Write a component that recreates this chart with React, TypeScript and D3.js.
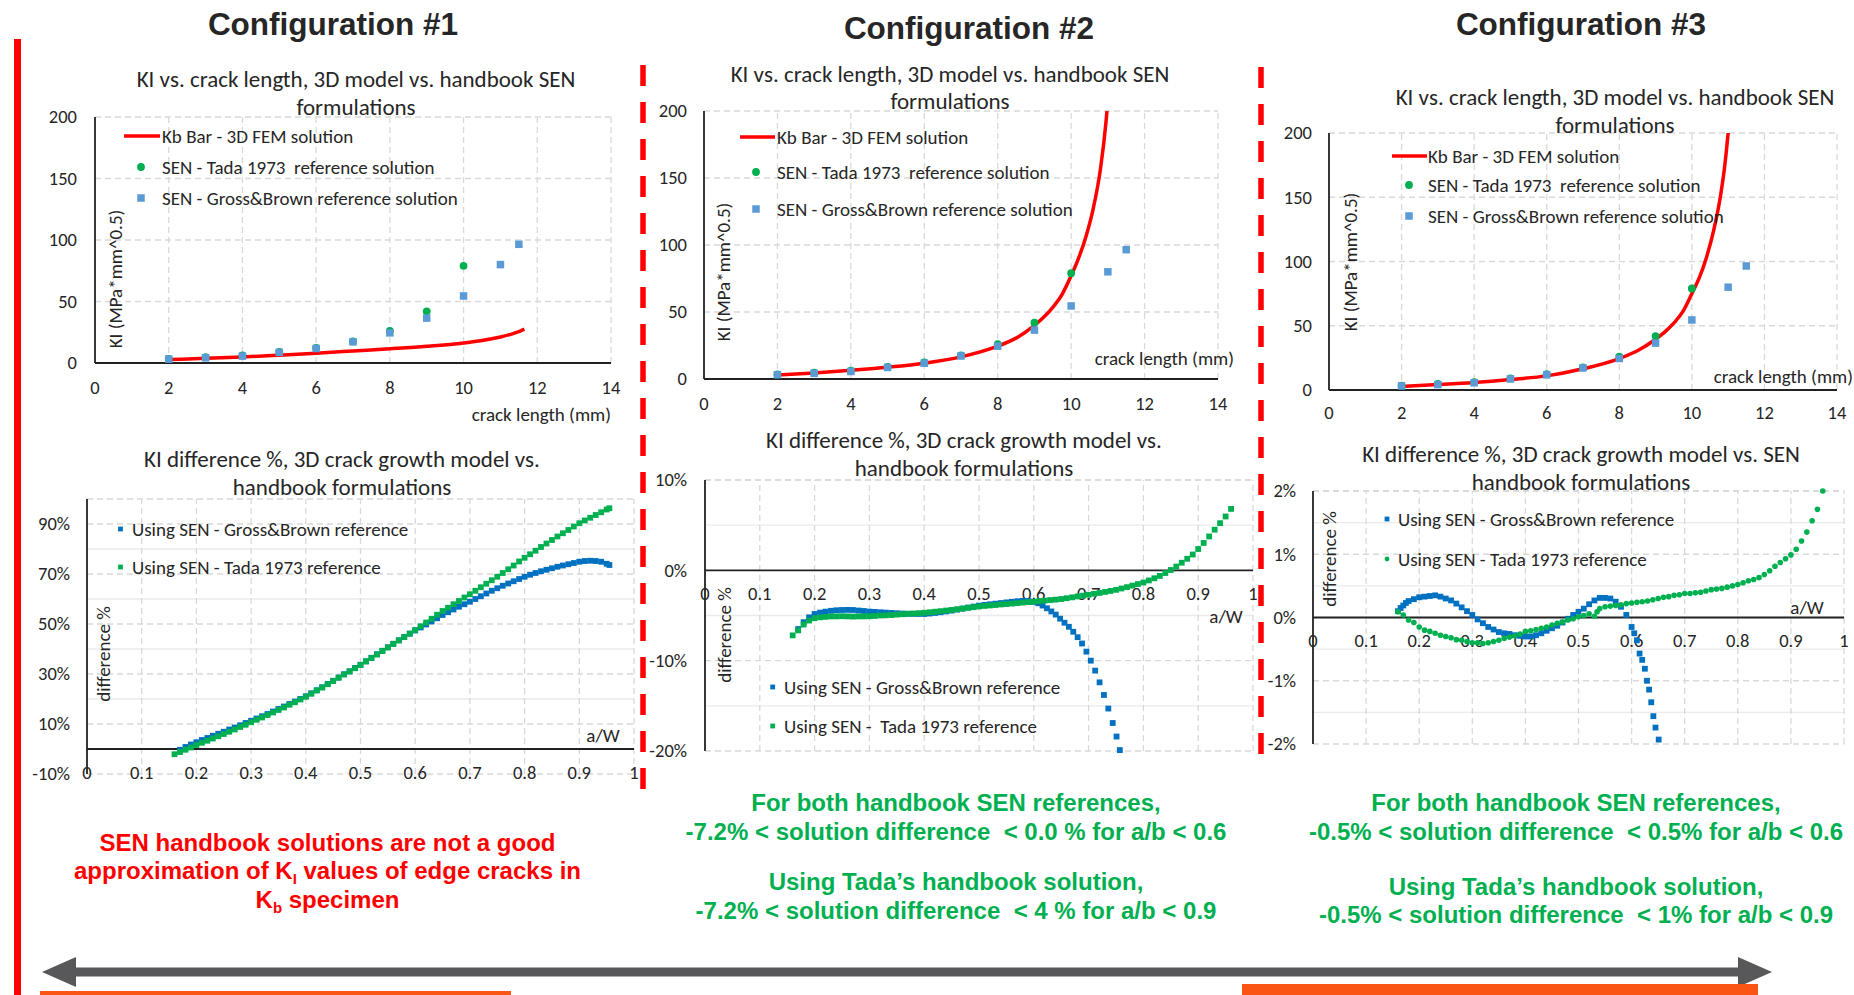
import React from "react";
import * as d3 from "d3";

const CAL = "Carlito, Calibri, Lato, sans-serif";
const ARIAL = "'Liberation Sans', Arial, Helvetica, sans-serif";
const TXT = "#262626";
const GRID = "#D9D9D9";
const RED = "#FF0000";
const GREEN = "#00B050";
const LBLUE = "#5B9BD5";
const DBLUE = "#0070C0";

const F_TITLE = 23;
const F_LEG = 19;
const F_TICK = 18.5;
const F_AXIS = 19;

// ---------------- data: KI vs crack length ----------------
const kiXTicks = [0, 2, 4, 6, 8, 10, 12, 14];
const kiYTicks = [0, 50, 100, 150, 200];

const grossCrack = [2, 3, 4, 5, 6, 7, 8, 9, 10, 11, 11.5];
const grossBrownKI = [3.2, 4.2, 5.6, 8.6, 11.8, 17.2, 24.5, 36.5, 54.5, 80, 96.5];

const tadaCrack = [2, 3, 4, 5, 6, 7, 8, 9, 10];
const tadaKI = [3.4, 4.8, 6.2, 9.0, 12.3, 17.6, 26, 42, 79];

const kb1Crack = [2, 3, 4, 5, 6, 7, 8, 9, 10, 10.5, 11, 11.3, 11.5, 11.65];
const kb1KI = [2.8, 3.8, 4.9, 6.4, 8.0, 9.8, 11.6, 13.6, 16.3, 18.3, 21.2, 23.5, 25.5, 27.5];

const kb2Crack = [2, 3, 4, 5, 6, 7, 8, 8.5, 9, 9.25, 9.5, 9.75, 10, 10.2, 10.4, 10.6, 10.8, 10.95, 11.05];
const kb2KI = [3, 4.5, 6.5, 8.8, 11.8, 16.5, 24.5, 30.5, 40, 46, 53.5, 63, 77, 90, 106, 127, 157, 192, 225];

const kb3Crack = [2, 3, 4, 5, 6, 7, 8, 8.5, 9, 9.25, 9.5, 9.75, 10, 10.2, 10.4, 10.6, 10.8, 10.9, 11.0, 11.08];
const kb3KI = [2.7, 4.2, 5.9, 8.2, 11, 16.5, 24.5, 30.5, 39.5, 45, 52, 61, 75, 87, 103, 124, 153, 173, 200, 225];

// ---------------- data: difference % vs a/W ----------------
const awTicks = [0, 0.1, 0.2, 0.3, 0.4, 0.5, 0.6, 0.7, 0.8, 0.9, 1];

const diff1Major = [-10, 10, 30, 50, 70, 90];
const diff1Minor = [20, 40, 60, 80];
const diff2Major = [-20, -10, 0, 10];
const diff2Minor = [-15, -5, 5];
const diff3Major = [-2, -1, 0, 1, 2];
const diff3Minor = [-1.5, -0.5, 0.5, 1.5];

type Pt = [number, number];

const c1Tada: Pt[] = [
  [0.16, -2.1], [0.17, -1.2], [0.18, -0.3], [0.19, 0.6], [0.2, 1.6], [0.21, 2.5], [0.22, 3.3], [0.23, 4.2],
  [0.24, 5.1], [0.25, 6.0], [0.26, 6.9], [0.27, 7.8], [0.28, 8.8], [0.29, 9.7], [0.3, 10.7], [0.31, 11.7],
  [0.32, 12.6], [0.33, 13.6], [0.34, 14.6], [0.35, 15.6], [0.36, 16.6], [0.37, 17.7], [0.38, 18.7], [0.39, 19.8],
  [0.4, 20.9], [0.41, 22.1], [0.42, 23.4], [0.43, 24.6], [0.44, 25.9], [0.45, 27.2], [0.46, 28.5], [0.47, 29.8],
  [0.48, 31.0], [0.49, 32.3], [0.5, 33.6], [0.51, 35.0], [0.52, 36.4], [0.53, 37.8], [0.54, 39.2], [0.55, 40.6],
  [0.56, 42.0], [0.57, 43.4], [0.58, 44.8], [0.59, 46.2], [0.6, 47.6], [0.61, 49.1], [0.62, 50.6], [0.63, 52.1],
  [0.64, 53.7], [0.65, 55.2], [0.66, 56.5], [0.67, 57.9], [0.68, 59.2], [0.69, 60.6], [0.7, 61.9], [0.71, 63.3],
  [0.72, 64.7], [0.73, 66.1], [0.74, 67.5], [0.75, 68.9], [0.76, 70.4], [0.77, 71.9], [0.78, 73.4], [0.79, 75.0],
  [0.8, 76.5], [0.81, 77.9], [0.82, 79.3], [0.83, 80.8], [0.84, 82.2], [0.85, 83.6], [0.86, 85.0], [0.87, 86.3],
  [0.88, 87.6], [0.89, 89.0], [0.9, 90.3], [0.91, 91.4], [0.92, 92.5], [0.93, 93.6], [0.94, 94.7], [0.95, 95.8],
  [0.955, 96.3],
];

const c1Gross: Pt[] = [
  [0.17, -0.3], [0.18, 0.8], [0.19, 1.8], [0.2, 2.7], [0.21, 3.6], [0.22, 4.4], [0.23, 5.3], [0.24, 6.1],
  [0.25, 6.9], [0.26, 7.8], [0.27, 8.6], [0.28, 9.5], [0.29, 10.4], [0.3, 11.3], [0.31, 12.2], [0.32, 13.1],
  [0.33, 14.0], [0.34, 15.0], [0.35, 16.0], [0.36, 17.0], [0.37, 18.0], [0.38, 19.0], [0.39, 20.0], [0.4, 21.1],
  [0.41, 22.3], [0.42, 23.5], [0.43, 24.7], [0.44, 26.0], [0.45, 27.3], [0.46, 28.6], [0.47, 29.9], [0.48, 31.1],
  [0.49, 32.4], [0.5, 33.7], [0.51, 35.1], [0.52, 36.5], [0.53, 37.9], [0.54, 39.3], [0.55, 40.7], [0.56, 42.1],
  [0.57, 43.5], [0.58, 44.8], [0.59, 46.1], [0.6, 47.4], [0.61, 48.6], [0.62, 49.8], [0.63, 51.0], [0.64, 52.3],
  [0.65, 53.6], [0.66, 54.7], [0.67, 55.8], [0.68, 56.9], [0.69, 57.9], [0.7, 58.9], [0.71, 60.0], [0.72, 61.1],
  [0.73, 62.2], [0.74, 63.3], [0.75, 64.3], [0.76, 65.3], [0.77, 66.2], [0.78, 67.1], [0.79, 68.0], [0.8, 68.9],
  [0.81, 69.7], [0.82, 70.4], [0.83, 71.1], [0.84, 71.7], [0.85, 72.3], [0.86, 72.9], [0.87, 73.4], [0.88, 73.9],
  [0.89, 74.4], [0.9, 74.9], [0.91, 75.2], [0.92, 75.3], [0.93, 75.2], [0.94, 74.9], [0.95, 74.1], [0.955, 73.6],
];

const c2Tada: Pt[] = [
  [0.16, -7.2], [0.17, -6.65], [0.18, -6.0], [0.19, -5.56], [0.2, -5.3], [0.21, -5.2], [0.22, -5.15], [0.23, -5.1],
  [0.24, -5.1], [0.25, -5.08], [0.26, -5.1], [0.27, -5.12], [0.28, -5.1], [0.29, -5.1], [0.3, -5.08], [0.31, -5.05],
  [0.32, -5.0], [0.33, -4.98], [0.34, -4.95], [0.35, -4.9], [0.36, -4.86], [0.37, -4.82], [0.38, -4.78], [0.39, -4.74],
  [0.4, -4.7], [0.41, -4.64], [0.42, -4.58], [0.43, -4.52], [0.44, -4.45], [0.45, -4.39], [0.46, -4.31], [0.47, -4.23],
  [0.48, -4.15], [0.49, -4.08], [0.5, -4.0], [0.51, -3.94], [0.52, -3.89], [0.53, -3.84], [0.54, -3.78], [0.55, -3.73],
  [0.56, -3.68], [0.57, -3.63], [0.58, -3.57], [0.59, -3.52], [0.6, -3.47], [0.61, -3.41], [0.62, -3.35], [0.63, -3.29],
  [0.64, -3.24], [0.65, -3.18], [0.66, -3.09], [0.67, -2.99], [0.68, -2.89], [0.69, -2.8], [0.7, -2.7], [0.71, -2.6],
  [0.72, -2.5], [0.73, -2.39], [0.74, -2.28], [0.75, -2.16], [0.76, -2.01], [0.77, -1.86], [0.78, -1.69], [0.79, -1.52],
  [0.8, -1.35], [0.81, -1.12], [0.82, -0.88], [0.83, -0.62], [0.84, -0.3], [0.85, 0.04], [0.86, 0.42], [0.87, 0.84],
  [0.88, 1.28], [0.89, 1.75], [0.9, 2.36], [0.91, 3.03], [0.92, 3.75], [0.93, 4.5], [0.94, 5.22], [0.95, 5.96],
  [0.96, 6.8],
];

const c2Gross: Pt[] = [
  [0.17, -6.5], [0.18, -5.74], [0.19, -5.2], [0.2, -4.83], [0.21, -4.68], [0.22, -4.57], [0.23, -4.48], [0.24, -4.42],
  [0.25, -4.39], [0.26, -4.38], [0.27, -4.39], [0.28, -4.45], [0.29, -4.5], [0.3, -4.57], [0.31, -4.6], [0.32, -4.64],
  [0.33, -4.68], [0.34, -4.72], [0.35, -4.75], [0.36, -4.78], [0.37, -4.8], [0.38, -4.82], [0.39, -4.83], [0.4, -4.83],
  [0.41, -4.78], [0.42, -4.72], [0.43, -4.64], [0.44, -4.55], [0.45, -4.46], [0.46, -4.35], [0.47, -4.24], [0.48, -4.12],
  [0.49, -4.01], [0.5, -3.9], [0.51, -3.83], [0.52, -3.76], [0.53, -3.69], [0.54, -3.62], [0.55, -3.55], [0.56, -3.48],
  [0.57, -3.42], [0.58, -3.38], [0.59, -3.4], [0.6, -3.5], [0.608, -3.65], [0.616, -3.9], [0.624, -4.2], [0.632, -4.55],
  [0.64, -4.9], [0.648, -5.35], [0.656, -5.8], [0.664, -6.25], [0.672, -6.8], [0.68, -7.4], [0.688, -8.1], [0.696, -9.0],
  [0.704, -10.0], [0.712, -11.1], [0.72, -12.4], [0.728, -13.8], [0.736, -15.3], [0.744, -16.9], [0.751, -18.4], [0.757, -19.9],
];

const c3Gross: Pt[] = [
  [0.16, 0.1], [0.165, 0.15], [0.17, 0.19], [0.175, 0.23], [0.18, 0.26], [0.19, 0.29], [0.2, 0.32], [0.21, 0.33],
  [0.22, 0.34], [0.23, 0.35], [0.24, 0.33], [0.25, 0.3], [0.26, 0.27], [0.27, 0.22], [0.28, 0.16], [0.29, 0.1],
  [0.3, 0.04], [0.31, -0.03], [0.32, -0.09], [0.33, -0.15], [0.34, -0.19], [0.35, -0.23], [0.36, -0.25], [0.37, -0.26],
  [0.38, -0.28], [0.39, -0.29], [0.4, -0.3], [0.41, -0.3], [0.42, -0.28], [0.43, -0.25], [0.44, -0.21], [0.45, -0.17],
  [0.46, -0.13], [0.47, -0.08], [0.48, -0.02], [0.49, 0.04], [0.5, 0.09], [0.51, 0.14], [0.52, 0.21], [0.53, 0.27],
  [0.54, 0.31], [0.55, 0.31], [0.56, 0.3], [0.57, 0.25], [0.58, 0.17], [0.59, 0.04], [0.6, -0.15], [0.605, -0.25],
  [0.61, -0.36], [0.615, -0.57], [0.62, -0.67], [0.625, -0.81], [0.629, -1.0], [0.633, -1.14], [0.637, -1.34],
  [0.641, -1.56], [0.645, -1.74], [0.651, -1.93],
];

const c3Tada: Pt[] = [
  [0.16, 0.09], [0.17, 0.04], [0.18, -0.04], [0.19, -0.08], [0.2, -0.15], [0.21, -0.2], [0.22, -0.22], [0.23, -0.25],
  [0.24, -0.28], [0.25, -0.3], [0.26, -0.32], [0.27, -0.35], [0.28, -0.36], [0.29, -0.38], [0.3, -0.4], [0.31, -0.4],
  [0.32, -0.41], [0.33, -0.4], [0.34, -0.38], [0.35, -0.36], [0.36, -0.33], [0.37, -0.31], [0.38, -0.29], [0.39, -0.26],
  [0.4, -0.22], [0.41, -0.21], [0.42, -0.19], [0.43, -0.17], [0.44, -0.15], [0.45, -0.12], [0.46, -0.09], [0.47, -0.07],
  [0.48, -0.04], [0.49, -0.02], [0.5, 0.01], [0.51, 0.03], [0.52, 0.06], [0.53, 0.02], [0.535, 0.09], [0.54, 0.14],
  [0.55, 0.17], [0.56, 0.18], [0.57, 0.19], [0.58, 0.2], [0.59, 0.22], [0.6, 0.23], [0.61, 0.24], [0.62, 0.25],
  [0.63, 0.26], [0.64, 0.28], [0.65, 0.3], [0.66, 0.32], [0.67, 0.33], [0.68, 0.35], [0.69, 0.36], [0.7, 0.38],
  [0.71, 0.38], [0.72, 0.39], [0.73, 0.4], [0.74, 0.42], [0.75, 0.44], [0.76, 0.45], [0.77, 0.46], [0.78, 0.48],
  [0.79, 0.5], [0.8, 0.52], [0.81, 0.55], [0.82, 0.58], [0.83, 0.6], [0.84, 0.63], [0.85, 0.68], [0.86, 0.74],
  [0.87, 0.81], [0.88, 0.87], [0.89, 0.93], [0.9, 0.99], [0.91, 1.08], [0.92, 1.21], [0.93, 1.35], [0.94, 1.53],
  [0.95, 1.71], [0.96, 2.0],
];

// ---------------- components ----------------
type XY = { x: number; y: number };

interface TopProps {
  id: string;
  px: [number, number];
  py: [number, number]; // [bottom, top]
  titleX: number;
  titleY: [number, number];
  yLabRight: number;
  xLabY: number;
  xTitle: XY;
  yTitle: XY;
  legLine: [number, number];
  legY: [number, number, number];
  legMarkX: number;
  legTextX: number;
  kbX: number[];
  kbY: number[];
}

function TopChart(p: TopProps) {
  const x = d3.scaleLinear().domain([0, 14]).range(p.px);
  const y = d3.scaleLinear().domain([0, 200]).range(p.py);
  const line = d3
    .line<number>()
    .x((_, i) => x(p.kbX[i]))
    .y((d) => y(d))
    .curve(d3.curveMonotoneX);
  const sq = 7.5;
  return (
    <g>
      <clipPath id={p.id}>
        <rect x={p.px[0]} y={p.py[1]} width={p.px[1] - p.px[0]} height={p.py[0] - p.py[1]} />
      </clipPath>
      {kiXTicks.filter((t) => t > 0).map((t) => (
        <line key={"gx" + t} x1={x(t)} x2={x(t)} y1={y(0)} y2={y(200)} stroke={GRID} strokeWidth={1.3} strokeDasharray="6 4" />
      ))}
      {kiYTicks.filter((t) => t > 0).map((t) => (
        <line key={"gy" + t} x1={x(0)} x2={x(14)} y1={y(t)} y2={y(t)} stroke={GRID} strokeWidth={1.3} strokeDasharray="6 4" />
      ))}
      <line x1={x(0)} x2={x(0)} y1={y(0)} y2={y(200)} stroke="#222" strokeWidth={1.8} />
      <line x1={x(0)} x2={x(14)} y1={y(0)} y2={y(0)} stroke="#222" strokeWidth={1.8} />
      {kiYTicks.map((t) => (
        <text key={"ly" + t} x={p.yLabRight} y={y(t)} dy="0.35em" textAnchor="end" fontFamily={CAL} fontSize={F_TICK} fill={TXT}>
          {t}
        </text>
      ))}
      {kiXTicks.map((t) => (
        <text key={"lx" + t} x={x(t)} y={p.xLabY} dy="0.35em" textAnchor="middle" fontFamily={CAL} fontSize={F_TICK} fill={TXT}>
          {t}
        </text>
      ))}
      <path d={line(p.kbY) || ""} fill="none" stroke={RED} strokeWidth={3.5} clipPath={`url(#${p.id})`} />
      {tadaCrack.map((c, i) => (
        <circle key={"t" + i} cx={x(c)} cy={y(tadaKI[i])} r={3.9} fill={GREEN} />
      ))}
      {grossCrack.map((c, i) => (
        <rect key={"g" + i} x={x(c) - sq / 2} y={y(grossBrownKI[i]) - sq / 2} width={sq} height={sq} fill={LBLUE} />
      ))}
      {/* legend */}
      <line x1={p.legLine[0]} x2={p.legLine[1]} y1={p.legY[0]} y2={p.legY[0]} stroke={RED} strokeWidth={3.5} />
      <circle cx={p.legMarkX} cy={p.legY[1]} r={3.9} fill={GREEN} />
      <rect x={p.legMarkX - sq / 2} y={p.legY[2] - sq / 2} width={sq} height={sq} fill={LBLUE} />
      <text x={p.legTextX} y={p.legY[0]} dy="0.35em" fontFamily={CAL} fontSize={F_LEG} fill={TXT}>
        Kb Bar - 3D FEM solution
      </text>
      <text x={p.legTextX} y={p.legY[1]} dy="0.35em" fontFamily={CAL} fontSize={F_LEG} fill={TXT} style={{ whiteSpace: "pre" }}>
        SEN - Tada 1973  reference solution
      </text>
      <text x={p.legTextX} y={p.legY[2]} dy="0.35em" fontFamily={CAL} fontSize={F_LEG} fill={TXT}>
        SEN - Gross&amp;Brown reference solution
      </text>
      {/* titles */}
      <text x={p.titleX} y={p.titleY[0]} dy="0.35em" textAnchor="middle" fontFamily={CAL} fontSize={F_TITLE} fill={TXT}>
        KI vs. crack length, 3D model vs. handbook SEN
      </text>
      <text x={p.titleX} y={p.titleY[1]} dy="0.35em" textAnchor="middle" fontFamily={CAL} fontSize={F_TITLE} fill={TXT}>
        formulations
      </text>
      <text x={p.xTitle.x} y={p.xTitle.y} dy="0.35em" textAnchor="end" fontFamily={CAL} fontSize={F_AXIS} fill={TXT}>
        crack length (mm)
      </text>
      <text
        transform={`translate(${p.yTitle.x},${p.yTitle.y}) rotate(-90)`}
        dy="0.35em"
        textAnchor="middle"
        fontFamily={CAL}
        fontSize={F_AXIS}
        fill={TXT}
      >
        KI (MPa*mm^0.5)
      </text>
    </g>
  );
}

interface DiffProps {
  px: [number, number];
  py: [number, number]; // [bottom, top]
  yDomain: [number, number];
  major: number[];
  minor: number[];
  yLabRight: number;
  xLabY: number;
  title: [string, string];
  titleX: number;
  titleY: [number, number];
  aw: XY;
  diffLab: XY;
  legX: number;
  legTextX: number;
  legY: [number, number];
  legTexts: [string, string];
  blue: Pt[];
  green: Pt[];
  greenDots?: boolean;
}

function DiffChart(p: DiffProps) {
  const x = d3.scaleLinear().domain([0, 1]).range(p.px);
  const y = d3.scaleLinear().domain(p.yDomain).range(p.py);
  const s = 5.8;
  const ls = 4.8;
  const fmt = (v: number) => `${v}%`;
  const top = p.yDomain[1];
  return (
    <g>
      {p.minor.map((t) => (
        <line key={"mn" + t} x1={x(0)} x2={x(1)} y1={y(t)} y2={y(t)} stroke="#EBEBEB" strokeWidth={1.3} />
      ))}
      {awTicks.filter((t) => t > 0).map((t) => (
        <line key={"gx" + t} x1={x(t)} x2={x(t)} y1={p.py[0]} y2={p.py[1]} stroke={GRID} strokeWidth={1.3} strokeDasharray="6 4" />
      ))}
      {[...p.major.filter((t) => t !== 0), top].map((t, i) => (
        <line key={"gy" + i} x1={x(0)} x2={x(1)} y1={y(t)} y2={y(t)} stroke={GRID} strokeWidth={1.3} strokeDasharray="6 4" />
      ))}
      <line x1={x(0)} x2={x(0)} y1={p.py[0]} y2={p.py[1]} stroke="#222" strokeWidth={1.8} />
      <line x1={x(0)} x2={x(1)} y1={y(0)} y2={y(0)} stroke="#222" strokeWidth={1.8} />
      {p.major.map((t) => (
        <text key={"ly" + t} x={p.yLabRight} y={y(t)} dy="0.35em" textAnchor="end" fontFamily={CAL} fontSize={F_TICK} fill={TXT}>
          {fmt(t)}
        </text>
      ))}
      {awTicks.map((t) => (
        <text key={"lx" + t} x={x(t)} y={p.xLabY} dy="0.35em" textAnchor="middle" fontFamily={CAL} fontSize={F_TICK} fill={TXT}>
          {String(t)}
        </text>
      ))}
      {p.blue.map((d, i) => (
        <rect key={"b" + i} x={x(d[0]) - s / 2} y={y(d[1]) - s / 2} width={s} height={s} fill={DBLUE} />
      ))}
      {p.green.map((d, i) =>
        p.greenDots ? (
          <circle key={"g" + i} cx={x(d[0])} cy={y(d[1])} r={2.8} fill={GREEN} />
        ) : (
          <rect key={"g" + i} x={x(d[0]) - s / 2} y={y(d[1]) - s / 2} width={s} height={s} fill={GREEN} />
        )
      )}
      {/* legend */}
      <rect x={p.legX - ls / 2} y={p.legY[0] - ls / 2} width={ls} height={ls} fill={DBLUE} />
      {p.greenDots ? (
        <circle cx={p.legX} cy={p.legY[1]} r={2.4} fill={GREEN} />
      ) : (
        <rect x={p.legX - ls / 2} y={p.legY[1] - ls / 2} width={ls} height={ls} fill={GREEN} />
      )}
      <text x={p.legTextX} y={p.legY[0]} dy="0.35em" fontFamily={CAL} fontSize={F_LEG} fill={TXT} style={{ whiteSpace: "pre" }}>
        {p.legTexts[0]}
      </text>
      <text x={p.legTextX} y={p.legY[1]} dy="0.35em" fontFamily={CAL} fontSize={F_LEG} fill={TXT} style={{ whiteSpace: "pre" }}>
        {p.legTexts[1]}
      </text>
      <text x={p.titleX} y={p.titleY[0]} dy="0.35em" textAnchor="middle" fontFamily={CAL} fontSize={F_TITLE} fill={TXT}>
        {p.title[0]}
      </text>
      <text x={p.titleX} y={p.titleY[1]} dy="0.35em" textAnchor="middle" fontFamily={CAL} fontSize={F_TITLE} fill={TXT}>
        {p.title[1]}
      </text>
      <text x={p.aw.x} y={p.aw.y} dy="0.35em" textAnchor="middle" fontFamily={CAL} fontSize={F_AXIS} fill={TXT}>
        a/W
      </text>
      <text
        transform={`translate(${p.diffLab.x},${p.diffLab.y}) rotate(-90)`}
        dy="0.35em"
        textAnchor="middle"
        fontFamily={CAL}
        fontSize={F_AXIS}
        fill={TXT}
      >
        difference %
      </text>
    </g>
  );
}

function DashedRed({ x, y1, y2 }: { x: number; y1: number; y2: number }) {
  return <line x1={x} x2={x} y1={y1} y2={y2} stroke={RED} strokeWidth={5.5} strokeDasharray="21 16" />;
}

function Arrow() {
  const y = 972;
  const xl = 42;
  const xr = 1772;
  const hl = 34;
  const hh = 15;
  return (
    <g fill="#58585A">
      <rect x={xl + hl - 2} y={y - 4.5} width={xr - xl - 2 * hl + 4} height={9} />
      <path d={`M${xl},${y} L${xl + hl},${y - hh} L${xl + hl},${y + hh} Z`} />
      <path d={`M${xr},${y} L${xr - hl},${y - hh} L${xr - hl},${y + hh} Z`} />
    </g>
  );
}

const BT = { fontFamily: ARIAL, fontWeight: 700 as const, fontSize: 24, textAnchor: "middle" as const };

export default function App() {
  return (
    <svg width={1854} height={995} style={{ position: "absolute", left: 0, top: 0, background: "#fff" }}>
      <rect x={0} y={0} width={1854} height={995} fill="#fff" />
      {/* section titles */}
      <text x={333} y={24} dy="0.35em" textAnchor="middle" fontFamily={ARIAL} fontWeight={700} fontSize={31.5} fill={TXT}>
        Configuration #1
      </text>
      <text x={969} y={28} dy="0.35em" textAnchor="middle" fontFamily={ARIAL} fontWeight={700} fontSize={31.5} fill={TXT}>
        Configuration #2
      </text>
      <text x={1581} y={24} dy="0.35em" textAnchor="middle" fontFamily={ARIAL} fontWeight={700} fontSize={31.5} fill={TXT}>
        Configuration #3
      </text>

      {/* separators */}
      <rect x={14} y={39} width={7} height={956} fill={RED} />
      <DashedRed x={643} y1={65} y2={795} />
      <DashedRed x={1261} y1={67} y2={760} />

      {/* top charts */}
      <TopChart
        id="c1clip"
        px={[95, 611]}
        py={[363, 117]}
        titleX={356}
        titleY={[79, 107]}
        yLabRight={77}
        xLabY={388}
        xTitle={{ x: 611, y: 414 }}
        yTitle={{ x: 115, y: 279 }}
        legLine={[124, 160]}
        legY={[136, 167, 198]}
        legMarkX={141}
        legTextX={162}
        kbX={kb1Crack}
        kbY={kb1KI}
      />
      <TopChart
        id="c2clip"
        px={[704, 1218]}
        py={[379, 111]}
        titleX={950}
        titleY={[74, 101]}
        yLabRight={687}
        xLabY={404}
        xTitle={{ x: 1234, y: 358 }}
        yTitle={{ x: 723.5, y: 272 }}
        legLine={[740, 775]}
        legY={[137, 172, 209]}
        legMarkX={756}
        legTextX={777}
        kbX={kb2Crack}
        kbY={kb2KI}
      />
      <TopChart
        id="c3clip"
        px={[1329, 1837]}
        py={[390, 133]}
        titleX={1615}
        titleY={[97, 125]}
        yLabRight={1312}
        xLabY={413}
        xTitle={{ x: 1853, y: 376 }}
        yTitle={{ x: 1350, y: 262 }}
        legLine={[1392, 1427]}
        legY={[156, 185, 216]}
        legMarkX={1409}
        legTextX={1428}
        kbX={kb3Crack}
        kbY={kb3KI}
      />

      {/* difference charts */}
      <DiffChart
        px={[87, 634]}
        py={[774, 499]}
        yDomain={[-10, 100]}
        major={diff1Major}
        minor={diff1Minor}
        yLabRight={70}
        xLabY={773}
        title={["KI difference %, 3D crack growth model vs.", "handbook formulations"]}
        titleX={342}
        titleY={[459, 487]}
        aw={{ x: 603, y: 735 }}
        diffLab={{ x: 103.6, y: 654 }}
        legX={120.5}
        legTextX={132}
        legY={[529, 567]}
        legTexts={["Using SEN - Gross&Brown reference", "Using SEN - Tada 1973 reference"]}
        blue={c1Gross}
        green={c1Tada}
      />
      <DiffChart
        px={[705, 1253]}
        py={[751, 480]}
        yDomain={[-20, 10]}
        major={diff2Major}
        minor={diff2Minor}
        yLabRight={687}
        xLabY={594}
        title={["KI difference %, 3D crack growth model vs.", "handbook formulations"]}
        titleX={964}
        titleY={[440, 468]}
        aw={{ x: 1226, y: 616 }}
        diffLab={{ x: 724, y: 635 }}
        legX={772.7}
        legTextX={784}
        legY={[687, 726]}
        legTexts={["Using SEN - Gross&Brown reference", "Using SEN -  Tada 1973 reference"]}
        blue={c2Gross}
        green={c2Tada}
      />
      <DiffChart
        px={[1313, 1844]}
        py={[744, 491]}
        yDomain={[-2, 2]}
        major={diff3Major}
        minor={diff3Minor}
        yLabRight={1296}
        xLabY={641}
        title={["KI difference %, 3D crack growth model vs. SEN", "handbook formulations"]}
        titleX={1581}
        titleY={[454, 482]}
        aw={{ x: 1807, y: 607 }}
        diffLab={{ x: 1329, y: 559 }}
        legX={1387}
        legTextX={1398}
        legY={[519, 559]}
        legTexts={["Using SEN - Gross&Brown reference", "Using SEN - Tada 1973 reference"]}
        blue={c3Gross}
        green={c3Tada}
        greenDots
      />

      {/* conclusions */}
      <g fill={RED}>
        <text x={327.5} y={843} dy="0.35em" {...BT}>SEN handbook solutions are not a good</text>
        <text x={327.5} y={871} dy="0.35em" {...BT}>
          approximation of K<tspan fontSize={15} dy={5}>I</tspan>
          <tspan dy={-5}> values of edge cracks in</tspan>
        </text>
        <text x={327.5} y={900} dy="0.35em" {...BT}>
          K<tspan fontSize={15} dy={5}>b</tspan>
          <tspan dy={-5}> specimen</tspan>
        </text>
      </g>
      <g fill={GREEN}>
        <text x={956} y={803} dy="0.35em" {...BT}>For both handbook SEN references,</text>
        <text x={956} y={832} dy="0.35em" {...BT} style={{ whiteSpace: "pre" }}>-7.2% &lt; solution difference  &lt; 0.0 % for a/b &lt; 0.6</text>
        <text x={956} y={882} dy="0.35em" {...BT}>Using Tada’s handbook solution,</text>
        <text x={956} y={911} dy="0.35em" {...BT} style={{ whiteSpace: "pre" }}>-7.2% &lt; solution difference  &lt; 4 % for a/b &lt; 0.9</text>

        <text x={1576} y={803} dy="0.35em" {...BT}>For both handbook SEN references,</text>
        <text x={1576} y={832} dy="0.35em" {...BT} style={{ whiteSpace: "pre" }}>-0.5% &lt; solution difference  &lt; 0.5% for a/b &lt; 0.6</text>
        <text x={1576} y={887} dy="0.35em" {...BT}>Using Tada’s handbook solution,</text>
        <text x={1576} y={915} dy="0.35em" {...BT} style={{ whiteSpace: "pre" }}>-0.5% &lt; solution difference  &lt; 1% for a/b &lt; 0.9</text>
      </g>

      <Arrow />
      <rect x={40} y={991} width={471} height={4} fill="#FA5514" />
      <rect x={1242} y={984} width={516} height={11} fill="#FA5514" />
    </svg>
  );
}
